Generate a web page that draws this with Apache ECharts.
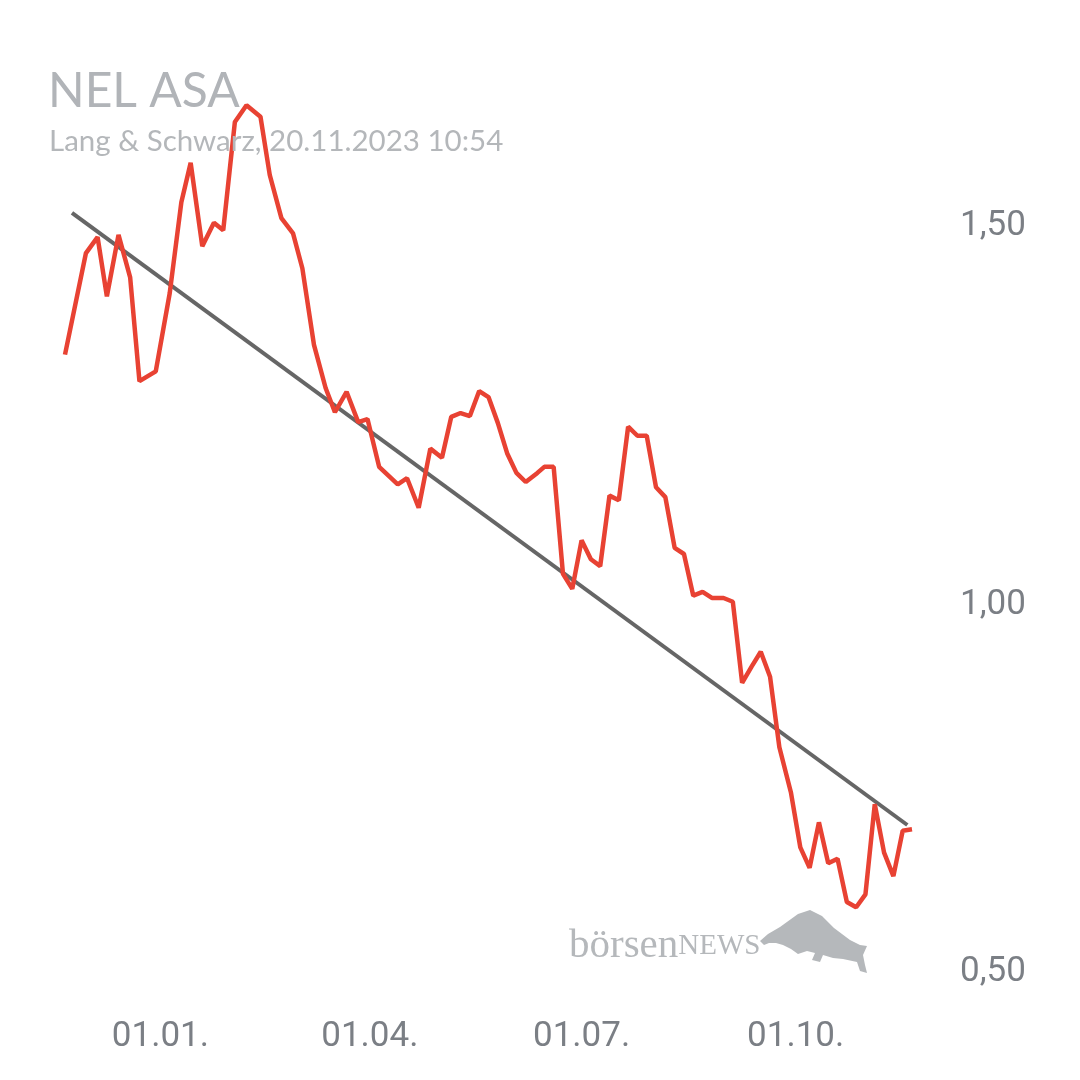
<!DOCTYPE html>
<html>
<head>
<meta charset="utf-8">
<script src="https://cdn.jsdelivr.net/npm/echarts@6/dist/echarts.min.js"></script>
<style>
  html, body { margin: 0; padding: 0; background: #fff; }
  #chart { width: 1080px; height: 1080px; }
</style>
</head>
<body>
<div id="chart"></div>
<script>
// Kursdaten NEL ASA
var priceDates = [
  '2022-11-21','2022-11-30','2022-12-05','2022-12-09','2022-12-14','2022-12-19','2022-12-23','2022-12-30',
  '2023-01-05','2023-01-10','2023-01-14','2023-01-19','2023-01-24','2023-01-28','2023-02-02','2023-02-07',
  '2023-02-13','2023-02-17','2023-02-22','2023-02-27','2023-03-03','2023-03-08','2023-03-13','2023-03-17',
  '2023-03-22','2023-03-27','2023-03-31','2023-04-05','2023-04-13','2023-04-17','2023-04-22','2023-04-27',
  '2023-05-02','2023-05-06','2023-05-10','2023-05-14','2023-05-18','2023-05-22','2023-05-26','2023-05-30',
  '2023-06-03','2023-06-07','2023-06-12','2023-06-15','2023-06-19','2023-06-23','2023-06-27','2023-07-01',
  '2023-07-05','2023-07-09','2023-07-13','2023-07-17','2023-07-21','2023-07-25','2023-07-29','2023-08-02',
  '2023-08-06','2023-08-10','2023-08-14','2023-08-18','2023-08-22','2023-08-26','2023-08-31','2023-09-04',
  '2023-09-08','2023-09-12','2023-09-16','2023-09-20','2023-09-24','2023-09-29','2023-10-03','2023-10-07',
  '2023-10-11','2023-10-15','2023-10-19','2023-10-23','2023-10-27','2023-10-31','2023-11-04','2023-11-08',
  '2023-11-12','2023-11-16','2023-11-20'
];
var priceValues = [
  1.325, 1.459, 1.480, 1.402, 1.483, 1.427, 1.290, 1.303,
  1.406, 1.526, 1.578, 1.468, 1.499, 1.489, 1.632, 1.654,
  1.639, 1.562, 1.505, 1.485, 1.439, 1.338, 1.281, 1.249,
  1.276, 1.236, 1.240, 1.177, 1.154, 1.162, 1.123, 1.201,
  1.189, 1.243, 1.248, 1.244, 1.277, 1.269, 1.235, 1.195,
  1.169, 1.157, 1.169, 1.177, 1.177, 1.036, 1.016, 1.080,
  1.055, 1.046, 1.139, 1.133, 1.230, 1.218, 1.218, 1.150,
  1.137, 1.070, 1.062, 1.007, 1.012, 1.004, 1.004, 0.999,
  0.892, 0.913, 0.933, 0.900, 0.807, 0.747, 0.675, 0.648,
  0.708, 0.654, 0.660, 0.603, 0.596, 0.613, 0.732, 0.668,
  0.637, 0.697, 0.699
];

// Trendlinie
var trendDates = ['2022-11-24', '2023-11-18'];
var trendValues = [1.512, 0.7045];

var xTickDates = ['2023-01-01', '2023-04-01', '2023-07-01', '2023-10-01'];
var xTickLabels = ['01.01.', '01.04.', '01.07.', '01.10.'];
var yTickValues = [0.5, 1.0, 1.5];
var yTickLabels = ['0,50', '1,00', '1,50'];

function toTime(s) {
  var p = s.split('-');
  return new Date(+p[0], +p[1] - 1, +p[2]).getTime();
}

var priceData = [];
for (var i = 0; i < priceDates.length; i++) {
  priceData.push([toTime(priceDates[i]), priceValues[i]]);
}
var trendData = [];
for (var j = 0; j < trendDates.length; j++) {
  trendData.push([toTime(trendDates[j]), trendValues[j]]);
}
var xTicks = xTickDates.map(toTime);

var axisColor = '#7b7f85';
var myChart = echarts.init(document.getElementById('chart'));

var option = {
  backgroundColor: '#fff',
  animation: false,
  title: [{
    text: 'NEL ASA',
    left: 43,
    top: 63,
    textStyle: { fontFamily: 'Lato', fontSize: 48, fontWeight: 'normal', color: '#b1b4b8' }
  }, {
    text: 'Lang & Schwarz, 20.11.2023 10:54',
    left: 44,
    top: 121,
    textStyle: { fontFamily: 'Lato', fontSize: 29.5, fontWeight: 'normal', color: '#b4b7ba' }
  }],
  grid: {
    left: 65,
    right: 168,
    top: 32.5,
    bottom: 100,
    containLabel: false
  },
  xAxis: {
    type: 'value',
    min: toTime('2022-11-21'),
    max: toTime('2023-11-20'),
    axisLine: { show: false },
    axisTick: { show: false },
    splitLine: { show: false },
    axisLabel: {
      customValues: xTicks,
      margin: 40,
      fontFamily: 'Roboto',
      fontSize: 35,
      color: axisColor,
      formatter: function (value) {
        var k = xTicks.indexOf(value);
        return k >= 0 ? xTickLabels[k] : '';
      }
    }
  },
  yAxis: {
    type: 'value',
    position: 'right',
    min: 0.5,
    max: 1.75,
    interval: 0.25,
    axisLine: { show: false },
    axisTick: { show: false },
    splitLine: { show: false },
    axisLabel: {
      margin: 48,
      fontFamily: 'Roboto',
      fontSize: 35,
      color: axisColor,
      formatter: function (value) {
        for (var k = 0; k < yTickValues.length; k++) {
          if (Math.abs(value - yTickValues[k]) < 1e-6) {
            return (k === 0 ? '{low|' : '{tk|') + yTickLabels[k] + '}';
          }
        }
        return '';
      },
      rich: {
        tk: { fontFamily: 'Roboto', fontSize: 35, color: axisColor, padding: [8, 0, 0, 0] },
        low: { fontFamily: 'Roboto', fontSize: 35, color: axisColor, padding: [0, 0, 16, 0] }
      }
    }
  },
  graphic: [{
    type: 'text',
    left: 569,
    top: 926,
    silent: true,
    style: {
      text: '{a|börsen}{b|NEWS}',
      rich: {
        a: { fontFamily: 'Liberation Serif', fontSize: 41, fill: '#b5b8bb' },
        b: { fontFamily: 'Liberation Serif', fontSize: 29, fill: '#b5b8bb' }
      }
    }
  }, {
    type: 'polygon',
    silent: true,
    shape: {
      points: [
        [760, 941], [768, 934], [780, 927], [798, 914], [810, 910], [822, 916], [834, 928],
        [850, 940], [860, 945], [867, 946], [863, 955], [865, 965], [867, 973], [860, 971],
        [857, 962], [843, 959], [833, 958], [823, 955], [820, 962], [812, 960], [815, 953],
        [807, 951], [798, 954], [791, 949], [783, 945], [776, 943], [769, 943], [764, 945]
      ]
    },
    style: { fill: '#b5b8bb' }
  }],
  series: [{
    name: 'Trend',
    type: 'line',
    data: trendData,
    showSymbol: false,
    lineStyle: { color: '#666666', width: 4 },
    z: 2
  }, {
    name: 'NEL ASA',
    type: 'line',
    data: priceData,
    showSymbol: false,
    lineStyle: { color: '#e84233', width: 4.5 },
    z: 3
  }]
};
myChart.setOption(option);
</script>
</body>
</html>
